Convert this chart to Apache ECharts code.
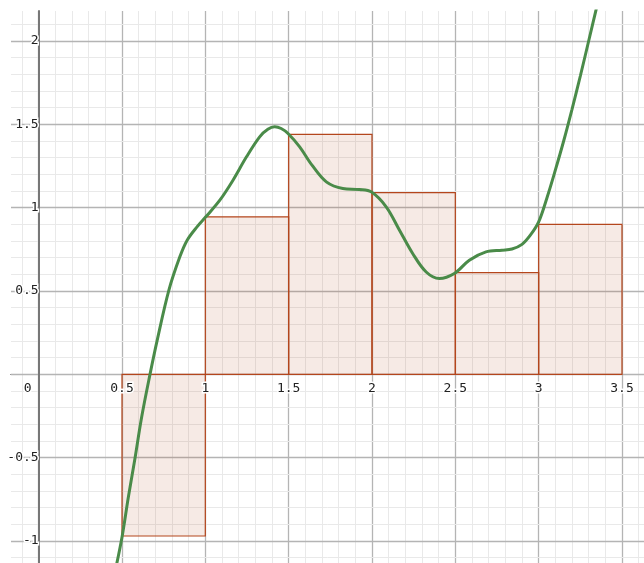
<!DOCTYPE html>
<html lang="en">
<head>
<meta charset="UTF-8">
<title>Riemann sum</title>
<script src="https://cdn.jsdelivr.net/npm/echarts@6/dist/echarts.min.js"></script>
<style>
html, body { margin: 0; padding: 0; background: #fff; }
#main { width: 644px; height: 563px; }
</style>
</head>
<body>
<div id="main"></div>
<script>
// left ends of the sub-intervals and the rectangle heights (left Riemann sum)
var stepLefts = [0.5, 1, 1.5, 2, 2.5, 3];
var stepHeights = [-0.97, 0.945, 1.44, 1.09, 0.61, 0.90];
var stepWidth = 0.5;

// points
var curveX = [0.455, 0.5, 0.538, 0.578, 0.618, 0.668, 0.711, 0.781, 0.847, 0.891, 0.95, 1.003,
    1.087, 1.166, 1.247, 1.326, 1.375, 1.416, 1.455, 1.496, 1.566, 1.64, 1.726, 1.825, 1.925,
    1.995, 2.085, 2.165, 2.244, 2.325, 2.404, 2.494, 2.584, 2.684, 2.78, 2.84, 2.9, 2.95, 3.0,
    3.05, 3.1, 3.15, 3.2, 3.25, 3.3, 3.345, 3.38];
var curveY = [-1.2, -0.977, -0.737, -0.503, -0.256, 0.0, 0.204, 0.504, 0.705, 0.805, 0.885, 0.945,
    1.045, 1.165, 1.305, 1.425, 1.47, 1.485, 1.475, 1.445, 1.365, 1.255, 1.155, 1.115, 1.109,
    1.095, 1.005, 0.865, 0.725, 0.614, 0.575, 0.605, 0.685, 0.735, 0.745, 0.752, 0.78, 0.835, 0.915,
    1.06, 1.225, 1.4, 1.59, 1.79, 2.0, 2.19, 2.34];

// tick labels
var xTickLabels = [0, 0.5, 1, 1.5, 2, 2.5, 3, 3.5];
var yTickLabels = [-1, -0.5, 0.5, 1, 1.5, 2];

var xMin = -0.166, xMax = 3.632;
var yMin = -1.132, yMax = 2.18;

var W = 644, H = 563, gridLeft = 11, gridTop = 11;
var gridW = W - gridLeft, gridH = H - gridTop;
// where the zero lines sit inside the grid, used to shift the label axes there
var zeroXpx = gridLeft + (0 - xMin) / (xMax - xMin) * gridW;
var zeroYpx = gridTop + (yMax - 0) / (yMax - yMin) * gridH;

var chart = echarts.init(document.getElementById('main'));

function hasTick(list, v) {
    for (var i = 0; i < list.length; i++) {
        if (Math.abs(list[i] - v) < 1e-6) return true;
    }
    return false;
}

var labelFont = {
    fontFamily: 'DejaVu Sans Mono',
    fontSize: 13,
    color: '#222',
    textBorderColor: '#fff',
    textBorderWidth: 3
};

var curveData = curveX.map(function (x, i) { return [x, curveY[i]]; });
var stepData = stepLefts.map(function (x, i) { return [x, stepHeights[i]]; });

var gridLine = { color: '#b4b4b4', width: 1.3 };
var minorLine = { color: '#e9e9e9', width: 1 };

var option = {
    animation: false,
    backgroundColor: '#fff',
    grid: { left: gridLeft, top: gridTop, right: 0, bottom: 0, containLabel: false, outerBoundsMode: 'none' },
    xAxis: [
        {
            type: 'value',
            min: xMin, max: xMax,
            minInterval: 0.5, maxInterval: 0.5, splitNumber: 8,
            z: 0,
            axisLine: { show: true, onZero: true, lineStyle: { color: '#000', width: 1 } },
            axisTick: { show: false },
            axisLabel: { show: false },
            splitLine: { show: true, showMinLine: false, showMaxLine: false, lineStyle: gridLine },
            minorTick: { show: false, splitNumber: 5 },
            minorSplitLine: { show: true, lineStyle: minorLine }
        },
        {
            // labels only, moved up to the zero line and drawn above the rectangles
            type: 'value',
            position: 'bottom',
            offset: -(H - zeroYpx),
            min: xMin, max: xMax,
            minInterval: 0.5, maxInterval: 0.5, splitNumber: 8,
            z: 10,
            axisLine: { show: false, onZero: false },
            axisTick: { show: false },
            splitLine: { show: false },
            axisLabel: Object.assign({
                show: true,
                margin: 8,
                hideOverlap: false,
                formatter: function (v) {
                    if (!hasTick(xTickLabels, v)) return '';
                    if (Math.abs(v) < 1e-6) return '{o|0}';
                    return String(v);
                },
                rich: {
                    o: Object.assign({ padding: [0, 22, 0, 0] }, labelFont)
                }
            }, labelFont)
        }
    ],
    yAxis: [
        {
            type: 'value',
            min: yMin, max: yMax,
            minInterval: 0.5, maxInterval: 0.5, splitNumber: 7,
            z: 1,
            axisLine: { show: true, onZero: true, lineStyle: { color: '#777', width: 2 } },
            axisTick: { show: false },
            axisLabel: { show: false },
            splitLine: { show: true, showMinLine: false, showMaxLine: false, lineStyle: gridLine },
            minorTick: { show: false, splitNumber: 5 },
            minorSplitLine: { show: true, lineStyle: minorLine }
        },
        {
            type: 'value',
            position: 'left',
            offset: -(zeroXpx - gridLeft),
            min: yMin, max: yMax,
            minInterval: 0.5, maxInterval: 0.5, splitNumber: 7,
            z: 10,
            axisLine: { show: false, onZero: false },
            axisTick: { show: false },
            splitLine: { show: false },
            axisLabel: Object.assign({
                show: true,
                margin: 0,
                hideOverlap: false,
                formatter: function (v) {
                    return hasTick(yTickLabels, v) ? String(v) : '';
                }
            }, labelFont)
        }
    ],
    series: [
        {
            type: 'custom',
            xAxisIndex: 0,
            yAxisIndex: 0,
            z: 3,
            data: stepData,
            renderItem: function (params, api) {
                var x0 = api.value(0), h = api.value(1);
                var a = api.coord([x0, 0]);
                var b = api.coord([x0 + stepWidth, h]);
                return {
                    type: 'rect',
                    shape: {
                        x: a[0], y: Math.min(a[1], b[1]),
                        width: b[0] - a[0], height: Math.abs(b[1] - a[1])
                    },
                    style: { fill: 'rgba(185,80,45,0.12)', stroke: '#b4461d', lineWidth: 1.2 }
                };
            }
        },
        {
            type: 'line',
            xAxisIndex: 0,
            yAxisIndex: 0,
            z: 5,
            data: curveData,
            smooth: 0.35,
            showSymbol: false,
            clip: true,
            lineStyle: { color: '#4a8b49', width: 3 }
        }
    ]
};

chart.setOption(option);
</script>
</body>
</html>
